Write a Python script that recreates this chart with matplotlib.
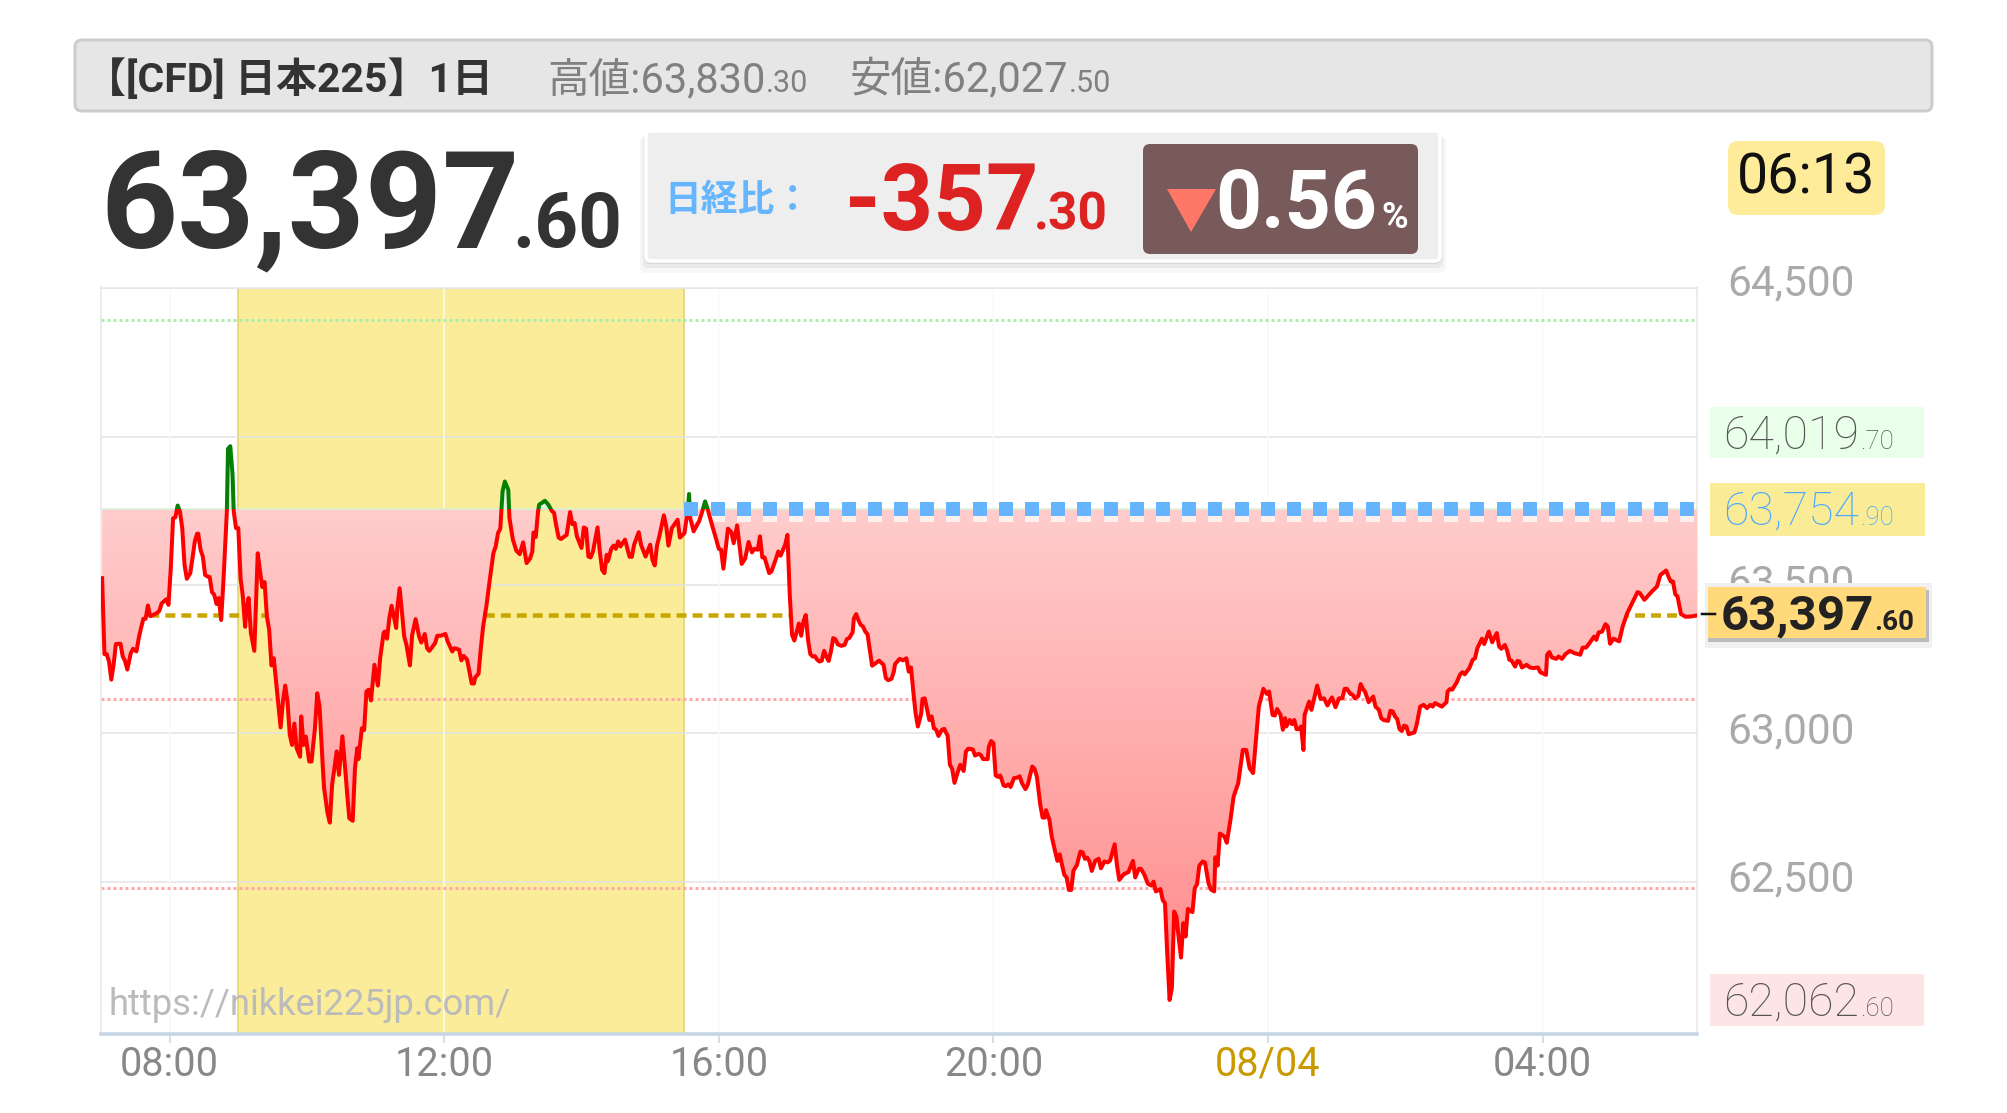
import numpy as np
import matplotlib
matplotlib.use("Agg")
import matplotlib.pyplot as plt
from matplotlib.colors import LinearSegmentedColormap
from matplotlib.patches import FancyBboxPatch, Rectangle, Polygon
from matplotlib.transforms import ScaledTranslation

plt.rcParams['font.family'] = ['Roboto', 'Noto Sans CJK JP', 'DejaVu Sans']

# Chart values: minutes after 07:00 and price
minutes_morning = [1, 3, 5, 7, 9, 11, 13, 17, 19, 21, 23, 26, 28, 31, 33, 35, 37, 39, 41, 43, 46, 49, 51, 53, 57, 59,
                   61, 63, 65, 67, 69, 71, 73, 75, 78, 80, 82, 84, 85, 87, 89, 91, 93, 95, 97, 99, 101, 103, 105, 107,
                   110, 111, 113, 115, 116, 118, 120, 122, 124, 126, 127, 129, 131, 134, 136, 137, 139, 141, 143, 145,
                   147, 149, 151, 153, 155, 157, 159, 161, 163, 165, 167, 169, 171, 174, 175, 177, 179, 182, 184, 187,
                   189, 191, 194, 195, 198, 200, 202, 203, 206, 208, 211, 214, 215, 217, 220, 222, 224, 225, 228, 230,
                   232, 234, 236, 239, 242, 244, 247, 248, 250, 252, 254, 256, 258, 259, 261, 263, 265, 267, 270, 272,
                   275, 278, 280]
prices_morning = [63523, 63267, 63267, 63242, 63181, 63231, 63301, 63302, 63259, 63244, 63215, 63270, 63285, 63276,
                  63321, 63355, 63386, 63386, 63431, 63395, 63400, 63406, 63413, 63438, 63452, 63433, 63557, 63725,
                  63728, 63768, 63748, 63692, 63568, 63521, 63540, 63591, 63647, 63673, 63673, 63619, 63596, 63534,
                  63529, 63527, 63476, 63467, 63436, 63456, 63382, 63512, 63748, 63959, 63968, 63872, 63748, 63692,
                  63692, 63523, 63461, 63359, 63416, 63456, 63338, 63278, 63501, 63607, 63546, 63493, 63510, 63394,
                  63349, 63229, 63253, 63175, 63096, 63020, 63107, 63161, 63107, 62995, 62961, 63033, 62950, 62921,
                  63057, 62961, 62989, 62905, 62905, 63017, 63135, 63091, 62877, 62815, 62731, 62699, 62826, 62854,
                  62939, 62860, 62990, 62854, 62804, 62714, 62705, 62883, 62950, 62913, 63017, 63011, 63141, 63147,
                  63111, 63231, 63161, 63253, 63338, 63343, 63319, 63388, 63430, 63394, 63355, 63422, 63489, 63411,
                  63327, 63298, 63229, 63332, 63385, 63327, 63306]

minutes_midday = [283, 285, 287, 292, 294, 297, 301, 303, 307, 309, 313, 315, 317, 320, 322, 324, 326, 327, 330, 332,
                  334, 337, 340, 343, 345, 347, 349, 351, 353, 356, 357, 360, 363, 366, 369, 372, 375, 377, 378, 380,
                  382, 383, 385, 388, 391, 394, 396, 398, 400, 402, 407, 410, 412, 414, 416, 420, 422, 424, 426, 428,
                  430, 434, 436, 438, 440, 442, 443, 446, 448, 450, 452, 454, 458, 462, 464, 466, 470, 472, 476, 480,
                  482, 484, 486, 488, 492, 494, 496, 499, 504, 506, 510, 513, 514, 515, 518, 523, 526, 528, 530, 534,
                  537, 540, 542, 544, 548, 551, 553, 556, 560, 563, 566, 569, 571, 574, 576, 578, 580, 584, 586, 590,
                  592, 594, 598]
prices_midday = [63335, 63287, 63278, 63304, 63329, 63329, 63335, 63310, 63276, 63287, 63282, 63246, 63261, 63248,
                 63209, 63168, 63168, 63188, 63201, 63287, 63360, 63433, 63523, 63608, 63630, 63675, 63690, 63816,
                 63849, 63821, 63726, 63653, 63616, 63604, 63644, 63574, 63589, 63613, 63677, 63662, 63748, 63771,
                 63776, 63784, 63771, 63750, 63743, 63698, 63660, 63655, 63669, 63746, 63705, 63709, 63664, 63625,
                 63694, 63690, 63596, 63593, 63613, 63694, 63613, 63551, 63540, 63602, 63580, 63622, 63633, 63622,
                 63647, 63630, 63653, 63595, 63595, 63636, 63678, 63636, 63596, 63636, 63585, 63566, 63633, 63664,
                 63735, 63698, 63633, 63692, 63720, 63660, 63675, 63759, 63807, 63726, 63681, 63717, 63754, 63782,
                 63759, 63703, 63664, 63622, 63619, 63555, 63690, 63678, 63641, 63701, 63571, 63589, 63645, 63610,
                 63622, 63619, 63664, 63593, 63593, 63540, 63546, 63589, 63613, 63599, 63636]

minutes_evening = [600, 602, 604, 606, 610, 612, 614, 616, 618, 620, 622, 624, 626, 628, 630, 632, 634, 636, 638, 640,
                   642, 644, 647, 650, 652, 654, 657, 658, 660, 662, 664, 666, 668, 670, 674, 677, 680, 684, 686, 688,
                   691, 693, 694, 698, 701, 704, 706, 708, 710, 712, 714, 717, 718, 720, 724, 726, 728, 730, 732, 735,
                   737, 740, 742, 744, 746, 749, 751, 754, 756, 758, 762, 764, 767, 769, 771, 775, 776, 778, 780, 782,
                   784, 786, 789, 791, 793, 795, 798, 801, 803, 805, 808, 810, 814, 816, 818, 821, 823, 825, 826, 829,
                   831, 834, 836, 838, 840, 842, 844, 846, 848, 850, 853, 856, 858, 860, 862, 864, 866, 869, 872, 874]
prices_evening = [63669, 63467, 63332, 63313, 63370, 63329, 63377, 63399, 63315, 63267, 63259, 63260, 63248, 63242,
                  63245, 63278, 63259, 63244, 63276, 63321, 63317, 63300, 63295, 63298, 63318, 63321, 63341, 63386,
                  63402, 63382, 63366, 63360, 63343, 63334, 63228, 63236, 63245, 63231, 63186, 63179, 63184, 63208,
                  63233, 63251, 63246, 63253, 63208, 63222, 63141, 63068, 63023, 63068, 63116, 63118, 63045, 63057,
                  63017, 63012, 62991, 63012, 63015, 62992, 62894, 62880, 62833, 62871, 62894, 62873, 62939, 62948,
                  62946, 62925, 62931, 62927, 62913, 62913, 62955, 62974, 62967, 62858, 62853, 62858, 62824, 62822,
                  62828, 62819, 62849, 62851, 62855, 62832, 62812, 62826, 62888, 62880, 62854, 62759, 62716, 62716,
                  62741, 62708, 62652, 62601, 62570, 62592, 62556, 62523, 62514, 62472, 62472, 62537, 62556, 62601,
                  62599, 62577, 62581, 62568, 62536, 62570, 62577, 62545]

minutes_night = [877, 880, 882, 886, 888, 890, 894, 898, 902, 904, 907, 909, 912, 915, 918, 920, 922, 926, 928, 930,
                 932, 934, 936, 938, 940, 942, 944, 946, 948, 950, 954, 956, 958, 960, 963, 965, 968, 970, 973, 974,
                 976, 978, 982, 984, 987, 990, 994, 998, 1001, 1004, 1007, 1012, 1016, 1019, 1021, 1024, 1026, 1028,
                 1031, 1033, 1035, 1036, 1039, 1041, 1043, 1045, 1047, 1049, 1051, 1052, 1056, 1058, 1063, 1066, 1069,
                 1072, 1075, 1076, 1079, 1082, 1085, 1087, 1089, 1092, 1094, 1096, 1099, 1101, 1103, 1105, 1108, 1112,
                 1114, 1117, 1119]
prices_night = [62568, 62565, 62571, 62626, 62556, 62506, 62525, 62532, 62570, 62514, 62543, 62543, 62523, 62493,
                62487, 62500, 62467, 62475, 62438, 62427, 62253, 62101, 62141, 62399, 62382, 62309, 62244, 62360,
                62315, 62408, 62397, 62478, 62491, 62554, 62568, 62564, 62495, 62474, 62467, 62582, 62554, 62662,
                62652, 62631, 62703, 62787, 62832, 62944, 62944, 62882, 62866, 63090, 63150, 63133, 63141, 63062,
                63060, 63082, 63062, 63012, 63051, 63023, 63045, 63031, 63045, 63014, 63014, 63023, 62944, 63062,
                63107, 63079, 63161, 63116, 63118, 63094, 63116, 63121, 63088, 63118, 63118, 63150, 63150, 63133,
                63130, 63118, 63126, 63166, 63150, 63139, 63105, 63124, 63090, 63079, 63051]

minutes_dawn = [1121, 1125, 1127, 1129, 1131, 1133, 1135, 1137, 1139, 1141, 1143, 1148, 1150, 1153, 1156, 1159, 1162,
                1164, 1166, 1172, 1176, 1177, 1179, 1181, 1185, 1188, 1190, 1192, 1196, 1199, 1201, 1203, 1207, 1209,
                1213, 1216, 1220, 1222, 1224, 1227, 1229, 1231, 1233, 1236, 1238, 1240, 1242, 1246, 1249, 1252, 1256,
                1258, 1263, 1264, 1266, 1268, 1272, 1274, 1277, 1280, 1284, 1288, 1293, 1295, 1298, 1301, 1305, 1307,
                1309, 1312, 1315, 1317, 1319, 1322, 1327, 1330, 1334, 1339, 1343, 1345, 1349, 1353, 1356, 1360, 1363,
                1368, 1370, 1372, 1374, 1376, 1378, 1381, 1385, 1390, 1395]
prices_dawn = [63045, 63042, 63076, 63074, 63057, 63048, 63014, 63008, 63026, 63023, 62997, 63003, 63029, 63090, 63096,
               63085, 63096, 63090, 63102, 63090, 63105, 63141, 63149, 63147, 63172, 63199, 63206, 63199, 63220, 63248,
               63253, 63287, 63319, 63301, 63343, 63307, 63338, 63293, 63285, 63298, 63279, 63248, 63245, 63225, 63244,
               63242, 63222, 63231, 63222, 63220, 63222, 63206, 63197, 63265, 63274, 63256, 63251, 63259, 63251, 63267,
               63278, 63270, 63265, 63289, 63289, 63304, 63326, 63315, 63340, 63343, 63368, 63360, 63302, 63319, 63310,
               63360, 63405, 63444, 63476, 63473, 63450, 63467, 63480, 63495, 63534, 63549, 63529, 63512, 63512, 63469,
               63461, 63402, 63393, 63394, 63397.6]

base_price = 63754.9
last_price = 63397.6
price_ticks = [62500, 63000, 63500, 64000, 64500]
price_tick_labels = ['62,500', '63,000', '63,500', '', '64,500']
time_ticks = [60, 300, 540, 780, 1020, 1260]
time_tick_labels = ['08:00', '12:00', '16:00', '20:00', '08/04', '04:00']
band_start, band_end = 120, 510
percent_lines = [0.01, -0.01, -0.02]

minutes = np.array(minutes_morning + minutes_midday + minutes_evening + minutes_night + minutes_dawn, dtype=float)
prices = np.array(prices_morning + prices_midday + prices_evening + prices_night + prices_dawn, dtype=float)

W, H = 2007, 1113
fig = plt.figure(figsize=(W / 100, H / 100), dpi=100, facecolor='white')


def px(v):
    # pixels to points at dpi 100
    return v * 0.72


# Plot area
left, right, top, bottom = 101, 1697, 287.5, 1033.5
ax = fig.add_axes([left / W, 1 - bottom / H, (right - left) / W, (bottom - top) / H])
ax.set_xlim(0, 1395)
ax.set_ylim(61988, 64503)

for name in ['left', 'right', 'top']:
    ax.spines[name].set_color('#e6e6e6')
    ax.spines[name].set_linewidth(px(1.5))
ax.spines['bottom'].set_color('#c5d5e5')
ax.spines['bottom'].set_linewidth(px(3.5))

# Cash session band
ax.axvspan(band_start, band_end, facecolor='#faec98', edgecolor='#e2cf6a', linewidth=px(1.5), zorder=1)

# Grid
ax.set_yticks(price_ticks, price_tick_labels)
ax.set_xticks(time_ticks, time_tick_labels)
ax.yaxis.tick_right()
ax.tick_params(axis='y', length=0, pad=px(30), labelsize=30.5, labelcolor='#aaaaaa')
ax.tick_params(axis='x', length=px(9), width=px(1.5), color='#c5d5e5', pad=px(2), labelsize=28.5, labelcolor='#888888')
for i, lab in enumerate(ax.get_yticklabels()):
    lab.set_ha('left')
    lift = 9.5 if i == len(price_ticks) - 1 else 6
    lab.set_transform(lab.get_transform() + ScaledTranslation(0, px(lift) / 72, fig.dpi_scale_trans))
ax.get_xticklabels()[4].set_color('#c99a00')
ax.grid(axis='y', color='#e2e2e2', linewidth=px(1.5), zorder=2)
for t in time_ticks:
    over_band = band_start < t < band_end
    ax.axvline(t, color='#fdfdf5' if over_band else '#f9f9f9', linewidth=px(1.5), zorder=2)

# +1% / -1% / -2% guide lines and the last price
for pct in percent_lines:
    ax.axhline(base_price * (1 + pct), color='#aaeeaa' if pct > 0 else '#ffa8a8', linewidth=px(3),
               linestyle=(0, (1, 1)), zorder=2.5)
ax.axhline(last_price, color='#c8a800', linewidth=px(4.5), linestyle=(0, (2.2, 1.35)), zorder=3)

# Area between the line and the previous close, gradient clipped to it
cmap = LinearSegmentedColormap.from_list('area', ['#ffcccc', '#ff8888'])
gradient = np.linspace(0, 1, 256).reshape(-1, 1)
area = ax.fill_between(minutes, np.minimum(prices, base_price), base_price, facecolor='none', edgecolor='none')
image = ax.imshow(gradient, extent=(0, 1395, 62062, base_price), origin='upper', cmap=cmap, aspect='auto', zorder=4)
image.set_clip_path(area.get_paths()[0], transform=ax.transData)
ax.set_xlim(0, 1395)
ax.set_ylim(61988, 64503)
ax.fill_between(minutes, base_price, np.maximum(prices, base_price), facecolor='#dff5df', edgecolor='none', zorder=4)
ax.axhline(base_price, color='#d5f2d5', linewidth=px(1.5), zorder=4.2)

# Line: red under the previous close, green over it
red, = ax.plot(minutes, prices, color='#ff0000', linewidth=px(4), solid_joinstyle='round', zorder=5)
green, = ax.plot(minutes, prices, color='#058005', linewidth=px(4), solid_joinstyle='round', zorder=5)
red.set_clip_path(Rectangle((0, 61988), 1395, base_price - 61988, transform=ax.transData))
green.set_clip_path(Rectangle((0, base_price), 1395, 64503 - base_price, transform=ax.transData))

# Previous close as square dots after the session close, with a white shadow
dots = np.arange(band_end + 6, 1395, 22.9)
ax.plot(dots, np.full(dots.size, base_price - 18), 's', color='#fff0f0', markersize=px(14), markeredgewidth=0, zorder=4.5)
ax.plot(dots, np.full(dots.size, base_price), 's', color='#66b3ff', markersize=px(13.5), markeredgewidth=0, zorder=6)

ax.text(0.005, 0.0245, 'https://nikkei225jp.com/', transform=ax.transAxes, fontsize=26.2, color='#bbbbbb', va='baseline',
        zorder=7)

# Everything around the plot is drawn in pixel coordinates on an overlay
over = fig.add_axes([0, 0, 1, 1], zorder=5)
over.set_xlim(0, W)
over.set_ylim(H, 0)
over.axis('off')
over.patch.set_alpha(0)
renderer = fig.canvas.get_renderer()


def box(x0, y0, x1, y1, face, edge='none', lw=0, radius=0, z=1, alpha=None):
    style = 'round,pad=0,rounding_size=%s' % radius if radius else 'square,pad=0'
    over.add_patch(FancyBboxPatch((x0, y0), x1 - x0, y1 - y0, boxstyle=style, facecolor=face, edgecolor=edge,
                                  linewidth=px(lw), zorder=z, alpha=alpha))


def text_pair(x, y, main, small, size, small_size, color, weight='normal', gap=2, small_x=None):
    t = over.text(x, y, main, fontsize=size, color=color, fontweight=weight, va='baseline', ha='left', zorder=10)
    if small_x is None:
        small_x = t.get_window_extent(renderer).x1 + gap
    over.text(small_x, y, small, fontsize=small_size, color=color, fontweight=weight, va='baseline', ha='left',
              zorder=10)


# Header bar
box(75, 40, 1932, 111, '#e6e6e6', edge='#cccccc', lw=3, radius=7)
over.text(85, 92, '【[CFD] 日本225】1日', fontsize=29.5, fontweight='bold', color='#333333', va='baseline', zorder=10)
text_pair(547, 92, '高値:63,830', '.30', 30, 22, '#808080', gap=0)
text_pair(850, 92, '安値:62,027', '.50', 30, 22, '#808080', gap=0)

# Last price
text_pair(100, 247, '63,397', '.60', 97, 55, '#333333', weight='bold', small_x=512)

# Change box
for grow, alpha in [(12, 0.03), (7, 0.05), (3, 0.07)]:
    box(646 - grow / 2, 131 + grow / 2, 1440 + grow / 2, 261 + grow, '#000000', radius=6, alpha=alpha)
box(646, 131, 1440, 261, '#eeeeee', edge='#ffffff', lw=3.5, radius=5, z=2)
over.text(664, 211, '日経比：', fontsize=26.5, fontweight='bold', color='#66b5ff', va='baseline', zorder=10)
text_pair(845, 230, '-357', '.30', 66, 37, '#dd2222', weight='bold', small_x=1034)
box(1143, 144, 1418, 254, '#785a5a', radius=7, z=3)
over.add_patch(Polygon([(1167, 189), (1216, 189), (1191, 232)], closed=True, facecolor='#ff7766', edgecolor='none', zorder=4))
over.text(1215, 228, '0.56', fontsize=58, fontweight='bold', color='white', va='baseline', zorder=10)
over.text(1381, 228, '%', fontsize=26, fontweight='bold', color='white', va='baseline', zorder=10)

# Clock
box(1728, 141, 1885, 215, '#feec9a', radius=10, z=3)
over.text(1806, 194, '06:13', fontsize=40, color='#111111', ha='center', va='baseline', zorder=10)

# Labels right of the plot
box(1710, 407, 1924, 458, '#eaffea')
text_pair(1723, 449, '64,019', '.70', 33.5, 18.5, '#555555', weight='light', gap=1)
box(1710, 483, 1925, 536, '#faec96')
text_pair(1723, 525, '63,754', '.90', 33.5, 18.5, '#4aa8ff', weight='light', gap=1)
box(1710, 974, 1924, 1026, '#fee5e5')
text_pair(1723, 1016, '62,062', '.60', 33.5, 18.5, '#555555', weight='light', gap=1)

box(1705, 583, 1932, 648, '#f0f0f0', z=1)
box(1708, 590, 1929, 642, '#bbbbbb', z=2)
box(1708, 587, 1926, 638, '#ffd97a', z=3)
over.plot([1702, 1715], [614, 614], color='#111111', linewidth=px(2.5), zorder=4)
text_pair(1721, 630, '63,397', '.60', 35.5, 20, '#222222', weight='bold', gap=0)

fig.savefig('out.png', dpi=100)
